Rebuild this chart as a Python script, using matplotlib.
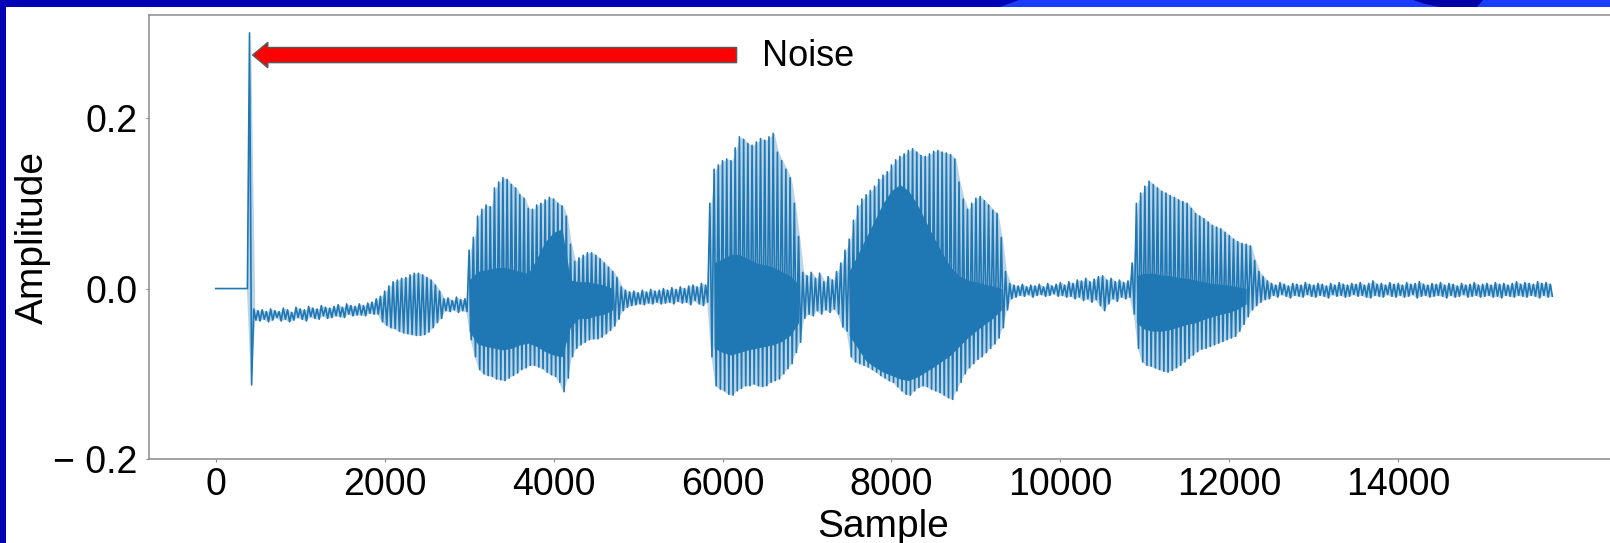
import numpy as np
import matplotlib.pyplot as plt
from matplotlib.patches import Rectangle, Polygon, FancyArrowPatch

plt.rcParams['font.family'] = ['Liberation Sans', 'DejaVu Sans']

# per-bin (50 samples) peak values of the recording, 0 .. 15800
upper = [
    0, 0, 0, 0, 0, 0, 0, 0, 0.300,
    -0.024, -0.026, -0.025, -0.027, -0.024, -0.026, -0.027, -0.023, -0.025, -0.028,
    -0.022, -0.024, -0.025, -0.021, -0.023, -0.024, -0.020, -0.022, -0.023, -0.021,
    -0.019, -0.022, -0.018, -0.020, -0.021, -0.018, -0.020, -0.017, -0.016,
    -0.012, -0.009, -0.003, 0.003, 0.008, 0.010, 0.012, 0.013, 0.016, 0.018, 0.018,
    0.016, 0.013, 0.010, 0.004, -0.003, -0.012, -0.011, -0.014, -0.010, -0.013, -0.012,
    0.045, 0.060, 0.085, 0.093, 0.098, 0.096, 0.118, 0.125, 0.130, 0.128, 0.122, 0.118,
    0.110, 0.106, 0.094, 0.093, 0.098, 0.100, 0.104, 0.107, 0.105, 0.100, 0.097, 0.085,
    0.052, 0.032, 0.036, 0.039, 0.042, 0.042, 0.039, 0.035, 0.030, 0.025, 0.020, 0.013, 0.002,
    -0.002, -0.004, -0.003, -0.005, -0.002, -0.004, -0.001, -0.003, -0.002, 0.000,
    -0.002, 0.001, -0.001, 0.002, 0.000, 0.003, 0.004, 0.002, 0.006, 0.004,
    0.100, 0.140, 0.145, 0.150, 0.152, 0.150, 0.165, 0.178, 0.175, 0.170, 0.168, 0.172,
    0.176, 0.174, 0.178, 0.182, 0.160, 0.150, 0.140, 0.130, 0.100, 0.061, 0.019,
    0.015, 0.019, 0.012, 0.018, 0.008, 0.014, 0.010, 0.020, 0.030,
    0.045, 0.058, 0.080, 0.097, 0.105, 0.110, 0.115, 0.120, 0.128, 0.133,
    0.137, 0.145, 0.151, 0.155, 0.158, 0.162, 0.164, 0.160, 0.156, 0.155,
    0.158, 0.161, 0.162, 0.160, 0.159, 0.157, 0.152, 0.125, 0.105, 0.093,
    0.100, 0.106, 0.108, 0.103, 0.098, 0.092, 0.088, 0.060, 0.020, 0.006,
    0.004, 0.003, 0.005, 0.002, 0.004, 0.003, 0.005, 0.002, 0.006, 0.003,
    0.005, 0.007, 0.004, 0.008, 0.006, 0.010, 0.009, 0.012, 0.008, 0.011,
    0.014, 0.015, 0.010, 0.012, 0.008, 0.010, 0.007, 0.009, 0.030,
    0.100, 0.112, 0.120, 0.126, 0.122, 0.118, 0.114, 0.112, 0.109, 0.107, 0.104,
    0.102, 0.100, 0.094, 0.088, 0.085, 0.082, 0.078, 0.074, 0.072, 0.070, 0.066,
    0.062, 0.058, 0.055, 0.053, 0.052, 0.050, 0.033, 0.020, 0.014, 0.009,
    0.006, 0.004, 0.007, 0.005, 0.003, 0.006, 0.005, 0.004, 0.007, 0.005,
    0.004, 0.006, 0.005, 0.003, 0.006, 0.004, 0.007, 0.005, 0.004, 0.006,
    0.005, 0.007, 0.004, 0.006, 0.009, 0.005, 0.006, 0.004, 0.007, 0.005,
    0.006, 0.004, 0.007, 0.005, 0.006, 0.008, 0.005, 0.004, 0.006, 0.005,
    0.007, 0.004, 0.006, 0.005, 0.003, 0.006, 0.004, 0.005, 0.007, 0.004,
    0.005, 0.006, 0.004, 0.007, 0.005, 0.006, 0.004, 0.006, 0.008, 0.005,
    0.007, 0.006, 0.005, 0.008, 0.006, 0.007, 0.005,
]
lower = [
    0, 0, 0, 0, 0, 0, 0, 0, -0.113,
    -0.037, -0.038, -0.036, -0.039, -0.037, -0.034, -0.038, -0.036, -0.039, -0.037,
    -0.034, -0.036, -0.038, -0.033, -0.035, -0.036, -0.032, -0.035, -0.034, -0.032,
    -0.033, -0.034, -0.030, -0.032, -0.031, -0.031, -0.032, -0.029, -0.030,
    -0.030, -0.039, -0.043, -0.046, -0.047, -0.050, -0.052, -0.053, -0.054, -0.055, -0.055,
    -0.054, -0.051, -0.046, -0.040, -0.035, -0.026, -0.027, -0.025, -0.028, -0.026, -0.027,
    -0.060, -0.080, -0.095, -0.100, -0.102, -0.103, -0.106, -0.107, -0.108, -0.105, -0.102, -0.099,
    -0.095, -0.093, -0.090, -0.090, -0.092, -0.094, -0.098, -0.101, -0.103, -0.110, -0.121, -0.105,
    -0.080, -0.070, -0.066, -0.063, -0.060, -0.059, -0.059, -0.057, -0.053, -0.049, -0.044, -0.036, -0.026,
    -0.022, -0.020, -0.019, -0.018, -0.019, -0.017, -0.018, -0.016, -0.018, -0.017,
    -0.016, -0.018, -0.015, -0.017, -0.016, -0.019, -0.014, -0.018, -0.020, -0.016,
    -0.080, -0.114, -0.118, -0.120, -0.124, -0.125, -0.120, -0.117, -0.114, -0.114, -0.112, -0.114,
    -0.115, -0.114, -0.110, -0.108, -0.106, -0.100, -0.094, -0.088, -0.075, -0.063, -0.035,
    -0.030, -0.032, -0.026, -0.030, -0.025, -0.028, -0.024, -0.030, -0.045,
    -0.050, -0.080, -0.086, -0.088, -0.090, -0.092, -0.095, -0.098, -0.102, -0.105,
    -0.108, -0.110, -0.115, -0.120, -0.124, -0.125, -0.120, -0.116, -0.114, -0.115,
    -0.118, -0.120, -0.122, -0.125, -0.128, -0.130, -0.120, -0.110, -0.100, -0.093,
    -0.088, -0.083, -0.080, -0.075, -0.070, -0.065, -0.058, -0.046, -0.025, -0.012,
    -0.010, -0.008, -0.009, -0.007, -0.010, -0.008, -0.007, -0.009, -0.008, -0.006,
    -0.009, -0.008, -0.010, -0.009, -0.012, -0.010, -0.014, -0.012, -0.016, -0.013,
    -0.020, -0.026, -0.018, -0.012, -0.015, -0.010, -0.012, -0.010, -0.030,
    -0.070, -0.086, -0.090, -0.091, -0.093, -0.095, -0.097, -0.098, -0.096, -0.093, -0.090,
    -0.086, -0.082, -0.078, -0.074, -0.071, -0.070, -0.068, -0.066, -0.064, -0.062, -0.060,
    -0.058, -0.056, -0.050, -0.042, -0.033, -0.025, -0.020, -0.016, -0.013, -0.012,
    -0.008, -0.010, -0.007, -0.009, -0.011, -0.008, -0.009, -0.010, -0.007, -0.009,
    -0.010, -0.008, -0.009, -0.011, -0.007, -0.009, -0.008, -0.010, -0.009, -0.007,
    -0.009, -0.008, -0.010, -0.011, -0.008, -0.009, -0.010, -0.007, -0.009, -0.010,
    -0.008, -0.010, -0.009, -0.007, -0.011, -0.009, -0.008, -0.010, -0.009, -0.008,
    -0.009, -0.011, -0.008, -0.010, -0.009, -0.007, -0.010, -0.009, -0.008, -0.010,
    -0.009, -0.008, -0.010, -0.009, -0.011, -0.008, -0.009, -0.010, -0.008, -0.009,
    -0.010, -0.008, -0.009, -0.011, -0.008, -0.010, -0.009,
]
bin_size = 50

# dense inner part of each voiced stretch, 100-sample steps
core_start = [3000, 5900, 7500, 10900]
core_hi = [
    [0.010, 0.020, 0.022, 0.024, 0.025, 0.023, 0.020, 0.018, 0.035, 0.055, 0.066, 0.070,
     0.010, 0.008, 0.008, 0.006, 0.004, 0.000],
    [0.030, 0.035, 0.040, 0.040, 0.035, 0.030, 0.028, 0.025, 0.020, 0.015, 0.005],
    [0.020, 0.040, 0.060, 0.080, 0.100, 0.115, 0.122, 0.115, 0.100, 0.080, 0.060, 0.042,
     0.025, 0.015, 0.010, 0.008, 0.005, 0.003, 0.000],
    [0.015, 0.018, 0.018, 0.016, 0.015, 0.013, 0.012, 0.010, 0.008, 0.006, 0.005, 0.004,
     0.002, 0.000],
]
core_lo = [
    [-0.050, -0.065, -0.068, -0.070, -0.072, -0.070, -0.066, -0.064, -0.068, -0.074, -0.078,
     -0.080, -0.045, -0.035, -0.035, -0.032, -0.030, -0.025],
    [-0.070, -0.075, -0.078, -0.075, -0.072, -0.070, -0.068, -0.066, -0.062, -0.055, -0.040],
    [-0.055, -0.070, -0.085, -0.092, -0.098, -0.102, -0.106, -0.108, -0.104, -0.098, -0.092,
     -0.085, -0.078, -0.068, -0.058, -0.050, -0.042, -0.035, -0.025],
    [-0.040, -0.048, -0.050, -0.050, -0.048, -0.045, -0.042, -0.040, -0.036, -0.033, -0.030,
     -0.028, -0.024, -0.018],
]

xticks = [0, 2000, 4000, 6000, 8000, 10000, 12000, 14000]
yticks = [-0.2, 0.0, 0.2]
ytick_labels = ['\u2212 0.2', '0.0', '0.2']

W, H = 1610, 543
fig = plt.figure(figsize=(W / 100, H / 100), dpi=100)

# slide frame
navy = '#0000b4'
bright = '#1a3cff'
fig.patches.append(Rectangle((0, 1 - 7 / H), 1, 7 / H, transform=fig.transFigure,
                             facecolor=navy, edgecolor='none', zorder=0))
fig.patches.append(Rectangle((0, 0), 6 / W, 1, transform=fig.transFigure,
                             facecolor=navy, edgecolor='none', zorder=0))
band = [(1000, 7), (1019, 0), (1610, 0), (1610, 7)]
fig.patches.append(Polygon([(x / W, 1 - y / H) for x, y in band], closed=True,
                           transform=fig.transFigure, facecolor=bright,
                           edgecolor='none', zorder=0))
swoosh = [(1413, 0), (1483, 0), (1477, 7), (1440, 7), (1425, 4)]
fig.patches.append(Polygon([(x / W, 1 - y / H) for x, y in swoosh], closed=True,
                           transform=fig.transFigure, facecolor='#0000a8',
                           edgecolor='none', zorder=0))

ax = fig.add_axes([149 / W, 84 / H, 1468 / W, 444 / H])
ax.set_facecolor('none')

# waveform: alternate between each bin's peak and trough
bins = np.arange(len(upper)) * bin_size
xs = np.empty(2 * len(bins))
ys = np.empty(2 * len(bins))
xs[0::2] = bins
xs[1::2] = bins + bin_size / 2
ys[0::2] = upper
ys[1::2] = lower
color = '#1f77b4'
ax.fill_between(bins + bin_size / 4, lower, upper, color=color, alpha=0.3, lw=0)
ax.plot(xs, ys, color=color, lw=1.2)
for start, hi, lo in zip(core_start, core_hi, core_lo):
    cx = start + np.arange(len(hi)) * 100
    ax.fill_between(cx, lo, hi, color=color, lw=0)

ax.set_xlim(-790, 16590)
ax.set_ylim(-0.2, 0.321)
ax.set_xticks(xticks)
ax.set_yticks(yticks)
ax.set_yticklabels(ytick_labels)
ax.tick_params(labelsize=27, length=2.2, width=0.8, color='#888888')
ax.tick_params(axis='x', pad=3.5)
ax.tick_params(axis='y', pad=6)
for side in ['left', 'top', 'bottom']:
    ax.spines[side].set_color('#8c8c8c')
    ax.spines[side].set_linewidth(1.1)
ax.spines['right'].set_visible(False)

ax.set_xlabel('Sample', fontsize=28)
ax.set_ylabel('Amplitude', fontsize=28)
ax.xaxis.set_label_coords(0.5, -0.113)
ax.yaxis.set_label_coords(-0.067, 0.5)

# arrow pointing at the click at the start of the recording
arrow = FancyArrowPatch((6166, 0.274), (438, 0.274),
                        arrowstyle='simple,head_length=0.6,head_width=1.0,tail_width=0.6',
                        mutation_scale=18, facecolor='#ff0000', edgecolor='#5a5a5a',
                        lw=1.1, shrinkA=0, shrinkB=0, zorder=5)
ax.add_patch(arrow)
ax.text(6473, 0.261, 'Noise', fontsize=26, va='baseline', ha='left')

fig.savefig('out.png', dpi=100)
